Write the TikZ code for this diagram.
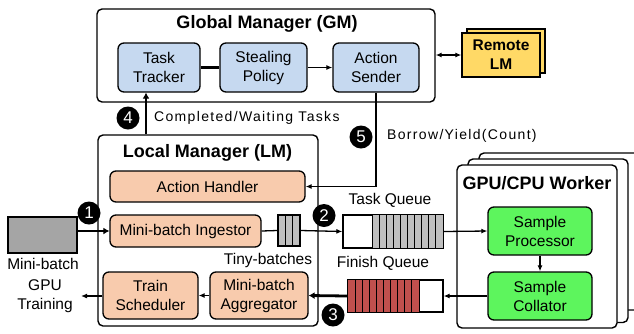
\documentclass[tikz,border=0pt]{standalone}
\usepackage{fontspec}
\setmainfont{Liberation Sans}
\usetikzlibrary{arrows.meta,calc}
\definecolor{bluefill}{HTML}{C6D9F0}
\definecolor{peach}{HTML}{F8CBAD}
\definecolor{yel}{HTML}{FFD966}
\definecolor{grn}{HTML}{5DF55D}
\definecolor{cellgrey}{HTML}{BFBFBF}
\definecolor{boxgrey}{HTML}{A5A5A5}
\definecolor{cellred}{HTML}{C0504D}
\newcommand{\nfont}{\fontsize{15.5}{19}\selectfont}
\newcommand{\bfont}{\fontsize{18}{21}\selectfont\bfseries}
\newcommand{\sfontx}{\fontsize{14}{16}\selectfont\addfontfeature{LetterSpace=9.5}}
\tikzset{
  outerbox/.style={draw, line width=1.4pt, rounded corners=5pt, fill=white, inner sep=0pt},
  inbox/.style={draw, line width=1.3pt, rounded corners=6pt, align=center, font=\nfont, inner sep=0pt},
  gmbox/.style={inbox, fill=bluefill},
  lmbox/.style={inbox, fill=peach},
  wbox/.style={inbox, fill=grn},
  num/.style={circle, fill=black, text=white, minimum size=23pt, inner sep=0pt, font=\fontsize{17}{17}\selectfont},
  lbl/.style={font=\nfont, inner sep=0pt, align=center},
  arr/.style={line width=1.3pt, -{Latex[length=6pt,width=5pt]}},
  thickarr/.style={line width=2.8pt, -{Latex[length=6pt,width=7pt]}},
}
\begin{document}
\begin{tikzpicture}[x=1pt,y=-1pt]
\useasboundingbox (0,0) rectangle (634,333);
% Global manager
\node[outerbox, minimum width=338pt, minimum height=93pt] (GM) at (266,55.5) {};
\node[font=\bfont, inner sep=0pt] (GMt) at (267,24) {Global Manager (GM)};
\node[gmbox, minimum width=82pt, minimum height=49pt] (TT) at (159,67.5) {Task\\Tracker};
\node[gmbox, minimum width=87pt, minimum height=49pt] (SP) at (263.5,67.5) {Stealing\\Policy};
\node[gmbox, minimum width=86pt, minimum height=49pt] (AS) at (376,67.5) {Action\\Sender};
\draw[line width=3pt] (TT.east) -- (SP.west);
\draw[arr] (SP.east) -- (AS.west);
% Remote LM
\node[draw, line width=1.3pt, fill=yel, minimum width=78pt, minimum height=44pt] (RLMb) at (506,51) {};
\node[draw, line width=1.3pt, fill=yel, minimum width=78pt, minimum height=44pt, align=center, font=\fontsize{15.5}{19}\selectfont\bfseries] (RLM) at (501,55) {Remote\\LM};
\draw[line width=1.3pt, {Latex[length=6pt,width=5pt]}-{Latex[length=6pt,width=5pt]}] (RLM.west -| GM.east) -- (RLM.west);
% Local manager
\node[outerbox, minimum width=220pt, minimum height=191pt] (LM) at (208,230.5) {};
\node[font=\bfont, inner sep=0pt] (LMt) at (207.5,153) {Local Manager (LM)};
\node[lmbox, minimum width=195pt, minimum height=31pt] (AH) at (207.5,186.5) {Action Handler};
\node[lmbox, minimum width=151pt, minimum height=32pt] (MBI) at (185.5,231) {Mini-batch Ingestor};
\node[lmbox, minimum width=95pt, minimum height=47pt] (TS) at (150.5,295.5) {Train\\Scheduler};
\node[lmbox, minimum width=98pt, minimum height=47pt] (MBA) at (259,295.5) {Mini-batch\\Aggregator};
% arrow 4 and 5
\coordinate (a4) at (146,0);
\draw[thickarr] (a4 |- LM.north) -- (a4 |- TT.south);
\node[num] (n4) at (128,118) {4};
\node[font=\sfontx, anchor=west, inner sep=0pt] (l4) at (154,118) {Completed/Waiting Tasks};
\draw[arr] (AS.south) |- (AH.east);
\node[num] (n5) at (361,137) {5};
\node[font=\sfontx, anchor=west, inner sep=0pt] (l5) at (387,136) {Borrow/Yield(Count)};
% Mini-batch input
\node[draw, line width=1.3pt, fill=boxgrey, minimum width=69pt, minimum height=36pt] (MB) at (42.5,235) {};
\node[lbl] (MBl) at (43,264) {Mini-batch};
\draw[thickarr] (MBI.west -| MB.east) -- (MBI.west);
\node[num] (n1) at (89,213) {1};
% tiny batches
\node[draw, line width=1.3pt, fill=cellgrey, minimum width=22pt, minimum height=31pt, inner sep=0pt] (TB) at (289,230.5) {};
\draw[line width=1pt] (285.3,215) -- (285.3,246) (292.7,215) -- (292.7,246);
\node[lbl] (TBl) at (268,260) {Tiny-batches};
\draw[line width=1.3pt] (MBI.east) -- (TB.west);
% task queue
\node[draw, line width=1.3pt, minimum width=100pt, minimum height=33pt, inner sep=0pt] (TQ) at (393,231.5) {};
\fill[cellgrey] (372,215) rectangle (443,248);
\foreach \i in {0,...,9} { \draw[line width=1pt] ({372+7.1*\i},215) -- ({372+7.1*\i},248); }
\draw[line width=1.3pt] (TQ.north west) rectangle (TQ.south east);
\node[lbl] (TQl) at (390,200) {Task Queue};
\draw[arr] (TB.east) -- (TQ.west);
\node[num] (n2) at (324,215.5) {2};
% finish queue
\node[draw, line width=1.3pt, minimum width=95pt, minimum height=32pt, inner sep=0pt] (FQ) at (395.5,296) {};
\fill[cellred] (348,280) rectangle (419,312);
\foreach \i in {1,...,10} { \draw[line width=1pt] ({348+7.1*\i},280) -- ({348+7.1*\i},312); }
\draw[line width=1.3pt] (FQ.north west) rectangle (FQ.south east);
\node[lbl] (FQl) at (383,263) {Finish Queue};
\draw[thickarr] (FQ.west) -- (MBA.east);
\node[num] (n3) at (333,315) {3};
\draw[arr] (MBA.west) -- (TS.east);
\node[lbl] (GPU) at (45,296.5) {GPU\\Training};
\coordinate (gt) at (81,296);
\draw[arr] (TS.west |- gt) -- (gt);
% worker
\draw[line width=1.4pt, rounded corners=5pt, fill=white] (479,153) rectangle (645,310);
\draw[line width=1.4pt, rounded corners=5pt, fill=white] (468,159) rectangle (628,322.5);
\node[outerbox, minimum width=160pt, minimum height=163pt] (W) at (537,246.5) {};
\node[font=\bfont, inner sep=0pt] (Wt) at (537,183) {GPU/CPU Worker};
\node[wbox, minimum width=104pt, minimum height=48pt] (SPr) at (540,231) {Sample\\Processor};
\node[wbox, minimum width=104pt, minimum height=48pt] (SC) at (540,296) {Sample\\Collator};
\draw[arr] (TQ.east) -- (SPr.west);
\draw[arr] (SPr.south) -- (SC.north);
\draw[arr] (SC.west) -- (FQ.east);
\end{tikzpicture}
\end{document}
